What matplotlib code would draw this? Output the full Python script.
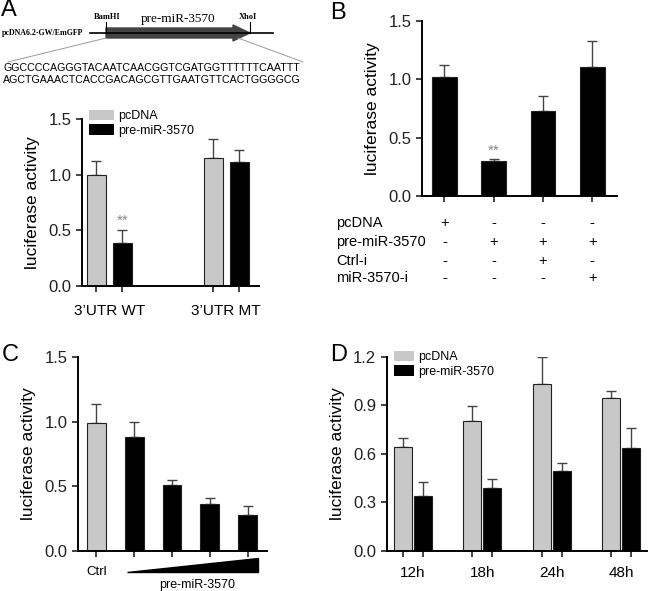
import numpy as np
import matplotlib.pyplot as plt
from matplotlib.patches import Polygon
import matplotlib.transforms as mtransforms

plt.rcParams['font.family'] = ['Liberation Sans', 'DejaVu Sans']

GRAY = '#c8c8c8'
ERR = '#444444'

# Panel A data
a_groups = ["3\u2019UTR WT", "3\u2019UTR MT"]
a_pcdna = [1.00, 1.15]
a_pcdna_err = [0.12, 0.17]
a_pre = [0.39, 1.11]
a_pre_err = [0.11, 0.11]
seq_line1 = "GGCCCCAGGGTACAATCAACGGTCGATGGTTTTTTCAATTT"
seq_line2 = "AGCTGAAACTCACCGACAGCGTTGAATGTTCACTGGGGCG"

# Panel B data
b_values = [1.02, 0.30, 0.73, 1.11]
b_err = [0.10, 0.02, 0.13, 0.22]
b_rows = ['pcDNA', 'pre-miR-3570', 'Ctrl-i', 'miR-3570-i']
b_signs = [['+', '-', '-', '-'],
           ['-', '+', '+', '+'],
           ['-', '-', '+', '-'],
           ['-', '-', '-', '+']]

# Panel C data
c_values = [0.99, 0.88, 0.51, 0.36, 0.28]
c_err = [0.15, 0.12, 0.04, 0.05, 0.07]

# Panel D data
d_times = ['12h', '18h', '24h', '48h']
d_pcdna = [0.645, 0.805, 1.035, 0.945]
d_pcdna_err = [0.055, 0.09, 0.165, 0.045]
d_pre = [0.34, 0.39, 0.495, 0.64]
d_pre_err = [0.085, 0.055, 0.05, 0.12]

fig = plt.figure(figsize=(6.5, 5.91), dpi=100)


def style_axes(ax, ymax, yticks):
    for s in ['top', 'right']:
        ax.spines[s].set_visible(False)
    for s in ['left', 'bottom']:
        ax.spines[s].set_linewidth(1.4)
    ax.set_ylim(0, ymax)
    ax.set_yticks(yticks)
    ax.tick_params(axis='both', direction='out', length=4, width=1.2,
                   labelsize=12, colors='#222222')
    ax.set_ylabel('luciferase activity', fontsize=12.5, labelpad=6)


def bars(ax, x, h, err, color, width):
    ax.bar(x, h, width=width, color=color, edgecolor='#222222', linewidth=0.8, zorder=2)
    ax.errorbar(x, h, yerr=[np.zeros(len(h)), err], fmt='none', ecolor=ERR,
                elinewidth=1.0, capsize=3.5, capthick=1.0, zorder=1)


# ---------- Panel A ----------
axA = fig.add_axes([0.126, 0.516, 0.272, 0.2826])
xa = np.arange(len(a_groups))
off, wa = 0.111, 0.162
bars(axA, xa - off, a_pcdna, a_pcdna_err, GRAY, wa)
bars(axA, xa + off, a_pre, a_pre_err, 'black', wa)
style_axes(axA, 1.5, [0, 0.5, 1.0, 1.5])
axA.set_xlim(-0.235, 1.278)
axA.set_xticks(np.concatenate([xa - off, xa + off]))
axA.set_xticklabels([])
for x, g in zip(xa, a_groups):
    axA.annotate(g, (x, 0), xycoords=axA.get_xaxis_transform(), xytext=(0, -18),
                 textcoords='offset points', ha='center', va='center', fontsize=11)
axA.text(xa[0] + off, a_pre[0] + a_pre_err[0] + 0.02, '**', ha='center', va='bottom',
         fontsize=11, color='#888888')
axA.bar([0], [0], color=GRAY, label='pcDNA')
axA.bar([0], [0], color='black', label='pre-miR-3570')
axA.legend(loc='upper left', bbox_to_anchor=(0.0, 1.1), frameon=False, fontsize=9,
           handlelength=2.0, handleheight=0.9, handletextpad=0.3, labelspacing=0.15,
           borderaxespad=0.2)


# construct diagram (figure pixel coordinates)
def fx(px):
    return px / 650.0


def fy(py):
    return 1 - py / 591.0


fig.text(0.002, fy(10), 'A', fontsize=17, va='center', ha='left')
fig.add_artist(plt.Line2D([fx(90), fx(273)], [fy(33), fy(33)], color='black', lw=1.2))
fig.add_artist(Polygon([[fx(106), fy(28)], [fx(233), fy(28)], [fx(233), fy(25)],
                        [fx(250), fy(33)], [fx(233), fy(41)], [fx(233), fy(38)],
                        [fx(106), fy(38)]], closed=True, color='#444444',
                       transform=fig.transFigure))
fig.add_artist(plt.Line2D([fx(106), fx(106)], [fy(22), fy(33)], color='black', lw=0.8))
fig.add_artist(plt.Line2D([fx(250), fx(250)], [fy(22), fy(33)], color='black', lw=0.8))
fig.text(fx(107), fy(17), 'BamHI', fontsize=6, family='Liberation Serif', weight='bold',
         ha='center', va='center')
fig.text(fx(248), fy(17), 'XhoI', fontsize=6, family='Liberation Serif', weight='bold',
         ha='center', va='center')
fig.text(fx(178), fy(19), 'pre-miR-3570', fontsize=9.5, family='Liberation Serif',
         ha='center', va='center')
fig.text(fx(2), fy(33), 'pcDNA6.2-GW/EmGFP', fontsize=5.7, family='Liberation Serif',
         weight='bold', ha='left', va='center')
fig.add_artist(plt.Line2D([fx(106), fx(8)], [fy(38), fy(62)], color='#999999', lw=0.7))
fig.add_artist(plt.Line2D([fx(238), fx(303)], [fy(38), fy(62)], color='#999999', lw=0.7))
fig.text(fx(3), fy(68), seq_line1, fontsize=7.7, ha='left', va='center')
fig.text(fx(3), fy(80), seq_line2, fontsize=7.7, ha='left', va='center')

# ---------- Panel B ----------
axB = fig.add_axes([0.649, 0.668, 0.30, 0.2965])
xb = np.arange(len(b_values))
bars(axB, xb, b_values, b_err, 'black', 0.5)
style_axes(axB, 1.5, [0, 0.5, 1.0, 1.5])
axB.set_xlim(-0.456, 3.5)
axB.set_xticks(xb)
axB.set_xticklabels([])
axB.text(1, b_values[1] + b_err[1] + 0.01, '**', ha='center', va='bottom',
         fontsize=11, color='#888888')
fig.text(0.508, fy(13), 'B', fontsize=17, va='center', ha='left')
row_px = [223, 242, 261, 278]
trB = mtransforms.blended_transform_factory(axB.transData, fig.transFigure)
for r, lab, signs in zip(row_px, b_rows, b_signs):
    fig.text(fx(336), fy(r), lab, fontsize=10.5, ha='left', va='center')
    for x, s in zip(xb, signs):
        axB.text(x, fy(r), s, transform=trB, fontsize=10.5, ha='center', va='center')

# ---------- Panel C ----------
axC = fig.add_axes([0.12, 0.0677, 0.291, 0.3283])
xc = np.arange(len(c_values))
c_colors = [GRAY] + ['black'] * (len(c_values) - 1)
bars(axC, xc, c_values, c_err, c_colors, 0.5)
style_axes(axC, 1.5, [0, 0.5, 1.0, 1.5])
axC.set_xlim(-0.49, 4.52)
axC.set_xticks(xc)
axC.set_xticklabels([])
trC = axC.get_xaxis_transform()
axC.text(0, -0.108, 'Ctrl', transform=trC, ha='center', va='center', fontsize=9.5)
axC.add_patch(Polygon([[0.81, -0.108], [4.28, -0.108], [4.28, -0.036]], closed=True,
                      color='black', transform=trC, clip_on=False))
axC.text(2.66, -0.175, 'pre-miR-3570', transform=trC, ha='center', va='center', fontsize=9)
fig.text(0.002, fy(355), 'C', fontsize=17, va='center', ha='left')

# ---------- Panel D ----------
axD = fig.add_axes([0.595, 0.0677, 0.40, 0.3283])
xd = np.arange(len(d_times))
offd, wd = 0.144, 0.26
bars(axD, xd - offd, d_pcdna, d_pcdna_err, GRAY, wd)
bars(axD, xd + offd, d_pre, d_pre_err, 'black', wd)
style_axes(axD, 1.2, [0, 0.3, 0.6, 0.9, 1.2])
axD.set_yticklabels(['0.0', '0.3', '0.6', '0.9', '1.2'])
axD.set_xlim(-0.374, 3.37)
axD.set_xticks(np.concatenate([xd - offd, xd + offd]))
axD.set_xticklabels([])
for x, t in zip(xd, d_times):
    axD.annotate(t, (x, 0), xycoords=axD.get_xaxis_transform(), xytext=(0, -16),
                 textcoords='offset points', ha='center', va='center', fontsize=11)
axD.bar([0], [0], color=GRAY, label='pcDNA')
axD.bar([0], [0], color='black', label='pre-miR-3570')
axD.legend(loc='upper left', bbox_to_anchor=(0.0, 1.07), frameon=False, fontsize=9,
           handlelength=1.6, handleheight=0.9, handletextpad=0.3, labelspacing=0.15,
           borderaxespad=0.2)
fig.text(0.508, fy(355), 'D', fontsize=17, va='center', ha='left')

fig.savefig('out.png', dpi=100)
